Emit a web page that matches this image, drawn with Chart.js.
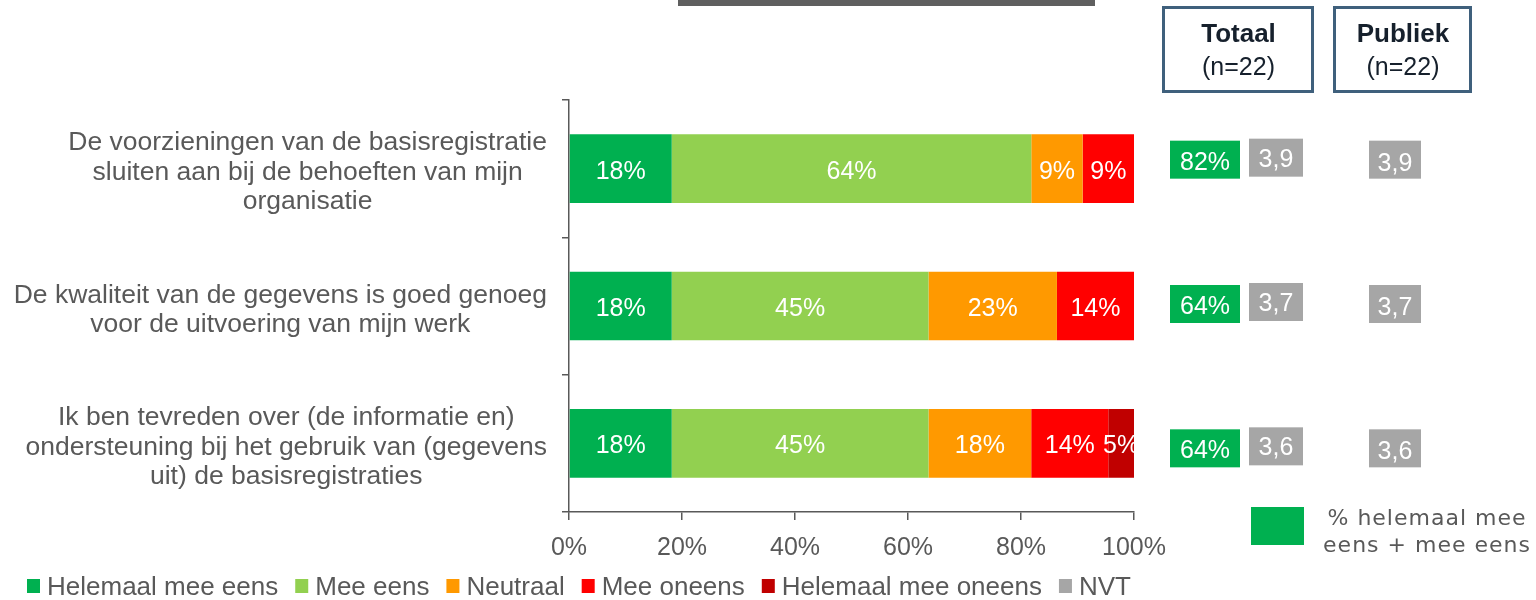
<!DOCTYPE html>
<html><head><meta charset="utf-8">
<script src="https://cdn.jsdelivr.net/npm/chart.js@4/dist/chart.umd.min.js"></script>
<style>html,body{margin:0;padding:0;background:#fff;overflow:hidden}</style>
</head><body>
<canvas id="c" width="1536" height="600" style="display:block;width:1536px;height:600px"></canvas>
<script>
// ---------- data ----------
const categories = [
  ['De voorzieningen van de basisregistratie', 'sluiten aan bij de behoeften van mijn', 'organisatie'],
  ['De kwaliteit van de gegevens is goed genoeg', 'voor de uitvoering van mijn werk'],
  ['Ik ben tevreden over (de informatie en)', 'ondersteuning bij het gebruik van (gegevens', 'uit) de basisregistraties']
];
const seriesNames = ['Helemaal mee eens', 'Mee eens', 'Neutraal', 'Mee oneens', 'Helemaal mee oneens', 'NVT'];
const helemaalMeeEens = [18.18, 18.18, 18.18];
const meeEens = [63.64, 45.45, 45.45];
const neutraal = [9.09, 22.73, 18.18];
const meeOneens = [9.09, 13.64, 13.64];
const helemaalMeeOneens = [0, 0, 4.55];
const nvt = [0, 0, 0];
const xTicks = [0, 20, 40, 60, 80, 100];
const totaalEens = [82, 64, 64];
const totaalGemiddelde = [3.9, 3.7, 3.6];
const publiekGemiddelde = [3.9, 3.7, 3.6];
const columnHeaders = [['Totaal', '(n=22)'], ['Publiek', '(n=22)']];
const keyText = ['% helemaal mee', 'eens + mee eens'];

// ---------- styles ----------
const F = '"Liberation Sans", Arial, sans-serif';
const colors = ['#00B050', '#92D050', '#FF9900', '#FF0000', '#C00000', '#A6A6A6'];
const GREY_TXT = '#595959';
const AXIS = '#595959';
const seriesValues = [helemaalMeeEens, meeEens, neutraal, meeOneens, helemaalMeeOneens, nvt];

const decor = {
  id: 'decor',
  afterDatasetsDraw(chart) {
    const ctx = chart.ctx, ca = chart.chartArea;
    ctx.save();
    ctx.beginPath();
    ctx.rect(ca.left, ca.top - 5, ca.right - ca.left + 1, ca.bottom - ca.top + 10);
    ctx.clip();
    ctx.font = '25px ' + F;
    ctx.fillStyle = '#FFFFFF';
    ctx.textAlign = 'center';
    ctx.textBaseline = 'middle';
    chart.data.datasets.forEach((ds, i) => {
      const meta = chart.getDatasetMeta(i);
      meta.data.forEach((bar, j) => {
        const v = ds.data[j];
        if (!v) return;
        const cx = (bar.x + bar.base) / 2;
        ctx.fillText(Math.round(v) + '%', cx, bar.y + 3);
      });
    });
    ctx.restore();
  },
  afterDraw(chart) {
    const ctx = chart.ctx;
    const yS = chart.scales.y;
    ctx.save();
    // top dark bar
    ctx.fillStyle = '#5F5F5F';
    ctx.fillRect(678, 0, 417, 6);

    // category labels (block right-aligned, lines centered)
    ctx.font = '26.5px ' + F;
    ctx.fillStyle = GREY_TXT;
    ctx.textAlign = 'center';
    ctx.textBaseline = 'middle';
    const lh = 29.5;
    categories.forEach((lines, i) => {
      const yc = yS.getPixelForValue(i);
      const maxW = Math.max(...lines.map(l => ctx.measureText(l).width));
      const cx = 547 - maxW / 2;
      lines.forEach((l, k) => {
        ctx.fillText(l, cx, yc + (k - (lines.length - 1) / 2) * lh + 4);
      });
    });

    // header boxes
    const heads = [{x: 1163, w: 149}, {x: 1334, w: 136}];
    heads.forEach((h, i) => {
      ctx.lineWidth = 3;
      ctx.strokeStyle = '#3F607C';
      ctx.strokeRect(h.x + 0.5, 7.5, h.w, 84);
      ctx.fillStyle = '#16202C';
      ctx.font = 'bold 26px ' + F;
      ctx.fillText(columnHeaders[i][0], h.x + h.w / 2 + 1, 35);
      ctx.font = '25px ' + F;
      ctx.fillText(columnHeaders[i][1], h.x + h.w / 2 + 1, 68);
    });

    // right-hand value boxes
    const offs = [-9, -2, 5];
    const fmt = v => v.toFixed(1).replace('.', ',');
    totaalEens.forEach((v, i) => {
      const yc = yS.getPixelForValue(i) + offs[i];
      ctx.fillStyle = colors[0];
      ctx.fillRect(1170, yc - 19, 70, 38);
      ctx.fillStyle = '#A6A6A6';
      ctx.fillRect(1249, yc - 21, 54, 38);
      ctx.fillRect(1369, yc - 19, 52, 38);
      ctx.fillStyle = '#FFFFFF';
      ctx.font = '25px ' + F;
      ctx.fillText(v + '%', 1205, yc + 3);
      ctx.fillText(fmt(totaalGemiddelde[i]), 1276, yc);
      ctx.fillText(fmt(publiekGemiddelde[i]), 1395, yc + 4);
    });

    // key (bottom right)
    ctx.fillStyle = colors[0];
    ctx.fillRect(1251, 507, 53, 38);
    ctx.fillStyle = GREY_TXT;
    ctx.font = '22px "DejaVu Sans", Verdana, sans-serif';
    if ('letterSpacing' in ctx) ctx.letterSpacing = '1px';
    ctx.fillText(keyText[0], 1427, 519);
    ctx.fillText(keyText[1], 1427, 546);
    if ('letterSpacing' in ctx) ctx.letterSpacing = '0px';

    // series legend (bottom)
    ctx.font = '26px ' + F;
    ctx.textAlign = 'left';
    let x = 27;
    chart.data.datasets.forEach((ds) => {
      ctx.fillStyle = ds.backgroundColor;
      ctx.fillRect(x, 579, 13, 14);
      ctx.fillStyle = GREY_TXT;
      ctx.fillText(ds.label, x + 20, 588);
      x += 20 + ctx.measureText(ds.label).width + 17;
    });
    ctx.restore();
  }
};

new Chart(document.getElementById('c'), {
  type: 'bar',
  data: {
    labels: categories,
    datasets: seriesNames.map((n, i) => ({
      label: n,
      data: seriesValues[i],
      backgroundColor: colors[i],
      borderWidth: 0,
      categoryPercentage: 1,
      barPercentage: 0.5
    }))
  },
  options: {
    responsive: false,
    animation: false,
    devicePixelRatio: 1,
    indexAxis: 'y',
    layout: {padding: {left: 0, right: 402, top: 100, bottom: 0}},
    plugins: {legend: {display: false}, tooltip: {enabled: false}},
    scales: {
      x: {
        type: 'linear', stacked: true, min: 0, max: 100,
        afterBuildTicks: s => { s.ticks = xTicks.map(v => ({value: v})); },
        ticks: {callback: v => v + '%', font: {family: F, size: 25}, color: GREY_TXT, padding: 13, maxRotation: 0, autoSkip: false},
        grid: {drawOnChartArea: false, drawTicks: true, tickLength: 8, color: AXIS, lineWidth: 1.5},
        border: {display: true, color: AXIS, width: 1.5},
        afterFit: s => { s.height = 88; }
      },
      y: {
        stacked: true,
        ticks: {display: false},
        grid: {offset: true, drawOnChartArea: false, drawTicks: true, tickLength: 7, color: AXIS, lineWidth: 1.5},
        border: {display: true, color: AXIS, width: 1.5},
        afterFit: s => { s.width = 569; }
      }
    }
  },
  plugins: [decor]
});
</script>
</body></html>
